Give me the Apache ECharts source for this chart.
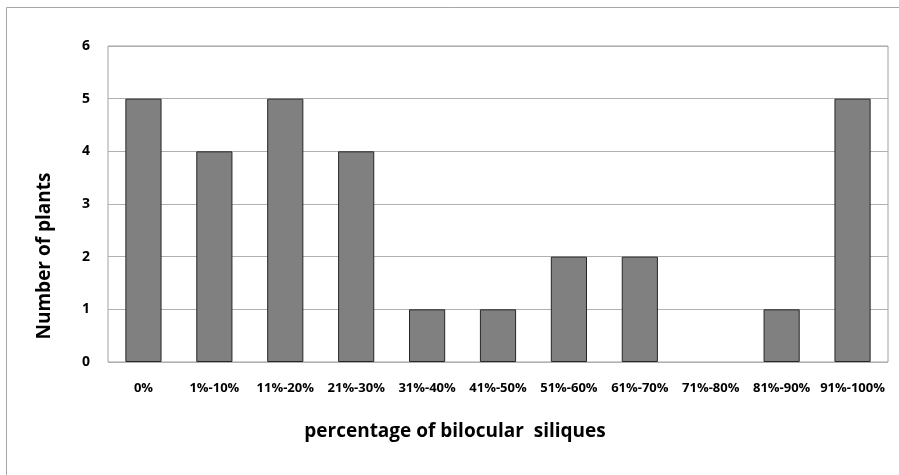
<!DOCTYPE html>
<html>
<head>
<meta charset="utf-8">
<script src="https://cdn.jsdelivr.net/npm/echarts@6/dist/echarts.min.js"></script>
<style>
  html, body { margin: 0; padding: 0; background: #fff; }
  #chart { width: 899px; height: 475px; }
</style>
</head>
<body>
<div id="chart"></div>
<script>
// 구간별 식물 수
const categories = ["0%", "1%-10%", "11%-20%", "21%-30%", "31%-40%", "41%-50%",
  "51%-60%", "61%-70%", "71%-80%", "81%-90%", "91%-100%"];
const plantCounts = [5, 4, 5, 4, 1, 1, 2, 2, 0, 1, 5];
const yTicks = [0, 1, 2, 3, 4, 5, 6];
const xTitle = "percentage of bilocular  siliques";
const yTitle = "Number of plants";

const fontFamily = "'Open Sans', 'Noto Sans', sans-serif";

const chart = echarts.init(document.getElementById("chart"));

// 값이 0인 막대는 테두리도 그리지 않음
const barData = plantCounts.map((v) =>
  v === 0 ? { value: v, itemStyle: { borderWidth: 0 } } : v
);

const titleStyle = {
  fill: "#000",
  fontWeight: "bold",
  fontSize: 19,
  fontFamily: fontFamily,
  align: "center",
  verticalAlign: "middle",
};

const options = {
  animation: false,
  graphic: [
    {
      type: "rect",
      shape: { x: 6.5, y: 7.5, width: 900, height: 480 },
      style: { fill: "none", stroke: "#a6a6a6", lineWidth: 1 },
      silent: true,
    },
    {
      type: "text",
      x: 455,
      y: 432,
      style: Object.assign({ text: xTitle }, titleStyle),
    },
    {
      type: "text",
      x: 45,
      y: 256,
      rotation: Math.PI / 2,
      style: Object.assign({ text: yTitle }, titleStyle),
    },
  ],
  grid: {
    left: 108,
    right: 11,
    top: 46,
    bottom: 113,
    show: true,
    borderColor: "#a0a0a0",
    borderWidth: 1,
  },
  xAxis: {
    type: "category",
    data: categories,
    axisLine: { show: false },
    axisTick: { show: false },
    axisLabel: {
      color: "#000",
      fontWeight: "bold",
      fontSize: 13,
      fontFamily: fontFamily,
      margin: 20,
      interval: 0,
    },
  },
  yAxis: {
    type: "value",
    min: yTicks[0],
    max: yTicks[yTicks.length - 1],
    interval: 1,
    axisLine: { show: false },
    axisTick: { show: false },
    splitLine: { lineStyle: { color: "#b0b0b0", width: 1 } },
    axisLabel: {
      color: "#000",
      fontWeight: "bold",
      fontSize: 14,
      fontFamily: fontFamily,
      margin: 18,
    },
  },
  series: [
    {
      type: "bar",
      data: barData,
      barWidth: "51%",
      itemStyle: {
        color: "#808080",
        borderColor: "#262626",
        borderWidth: 1,
      },
    },
  ],
};

chart.setOption(options);
</script>
</body>
</html>
